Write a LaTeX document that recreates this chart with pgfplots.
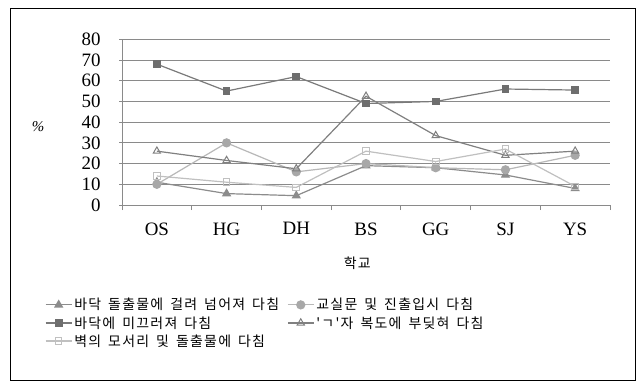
\documentclass[border=0pt]{standalone}
\usepackage{fontspec}
\setmainfont{Liberation Serif}
\newfontfamily\kr[WordSpace=1.6]{Noto Sans CJK KR}
\newfontfamily\krl[WordSpace=1.6,LetterSpace=9]{Noto Sans CJK KR}
\usepackage{pgfplots}
\pgfplotsset{compat=1.18}
\definecolor{c1}{HTML}{8C8C8C}
\definecolor{c2}{HTML}{A8A8A8}
\definecolor{c2l}{HTML}{B8B8B8}
\definecolor{c3}{HTML}{6E6E6E}
\definecolor{c3l}{HTML}{7A7A7A}
\definecolor{c4}{HTML}{808080}
\definecolor{c5}{HTML}{C0C0C0}
\definecolor{gridc}{HTML}{8A8A8A}
\begin{document}
\begin{tikzpicture}[x=1bp,y=1bp]
\useasboundingbox (0,0) rectangle (637,381);
\fill[white] (0,0) rectangle (637,381);
\draw[black, line width=0.8bp] (10,1) rectangle (635,373);
\begin{axis}[
  at={(122bp,176bp)}, anchor=south west, scale only axis,
  width=488bp, height=165.7bp,
  xmin=-0.5, xmax=6.5, ymin=0, ymax=80,
  xtick={0,...,6}, xticklabels={OS,HG,DH,BS,GG,SJ,YS},
  minor xtick={-0.5,0.5,...,6.5},
  major x tick style={draw=none},
  minor x tick style={draw=gridc, line width=0.8bp},
  minor tick length=5bp,
  ytick={0,10,...,80},
  major tick length=3bp,
  ytick style={draw=gridc, line width=0.8bp},
  tick align=outside,
  ymajorgrids, grid style={gridc, line width=0.8bp},
  axis x line*=bottom, axis y line*=left,
  axis line style={gridc, line width=0.8bp},
  /pgf/number format/assume math mode=true,
  tick label style={font=\fontsize{19}{20}\selectfont, black},
  yticklabel style={xshift=-15bp},
  xticklabel style={yshift=-11bp},
  xlabel={\krl 학교},
  xlabel style={at={(axis description cs:0.482,-0.35)}, anchor=center, font=\fontsize{14}{16}\selectfont},
  ylabel={\textit{\%}},
  ylabel style={at={(axis description cs:-0.172,0.47)}, anchor=center, rotate=-90, font=\fontsize{15}{16}\selectfont},
  legend columns=2,
  legend style={at={(axis description cs:-0.158,-0.55)}, anchor=north west, draw=none, fill=none,
    font=\krl\fontsize{14}{15}\selectfont, inner sep=0pt, row sep=1bp,
    /tikz/every even column/.append style={column sep=6bp}},
  legend cell align=left,
  legend image code/.code={\draw[mark repeat=2,mark phase=2,#1] plot coordinates {(0bp,0bp) (13bp,0bp) (26bp,0bp)};},
  every axis plot/.append style={line width=1.2bp},
]
\addplot[c1, mark=triangle*, mark size=4.2bp, mark options={fill=c1, draw=c1}]
  coordinates {(0,11)(1,5.5)(2,4.5)(3,19)(4,18)(5,14.5)(6,8)};
\addlegendentry{바닥 돌출물에 걸려 넘어져 다침}
\addplot[c2l, mark=*, mark size=4bp, mark options={fill=c2, draw=c2}]
  coordinates {(0,10)(1,30)(2,16)(3,20)(4,18)(5,17)(6,24)};
\addlegendentry{교실문 및 진출입시 다침}
\addplot[c3l, mark=square*, mark size=3.3bp, mark options={fill=c3, draw=c3}]
  coordinates {(0,68)(1,55)(2,62)(3,49)(4,50)(5,56)(6,55.5)};
\addlegendentry{바닥에 미끄러져 다침}
\addplot[c4, mark=triangle, mark size=4.2bp, mark options={fill=white, draw=c4, line width=1bp}]
  coordinates {(0,26)(1,21.5)(2,17.5)(3,52.5)(4,33.5)(5,24)(6,26)};
\addlegendentry{'ㄱ'자 복도에 부딪혀 다침}
\addplot[c5, mark=square, mark size=3.3bp, mark options={fill=white, draw=c5, line width=1bp}]
  coordinates {(0,14)(1,11)(2,8.5)(3,26)(4,21)(5,27)(6,9)};
\addlegendentry{벽의 모서리 및 돌출물에 다침}
\end{axis}
\end{tikzpicture}
\end{document}
